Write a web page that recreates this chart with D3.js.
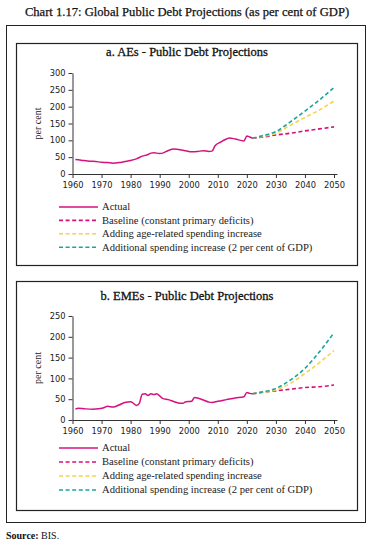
<!DOCTYPE html>
<html><head><meta charset="utf-8">
<script src="https://cdn.jsdelivr.net/npm/d3@7"></script>
<style>
html,body{margin:0;padding:0;background:#fff;}
svg{display:block;}
</style></head>
<body>
<svg id="c" width="373" height="548"></svg>
<script>
// ---- Data ----
const xTicks = [1960,1970,1980,1990,2000,2010,2020,2030,2040,2050];
const aYTicks = [0,50,100,150,200,250,300];
const bYTicks = [0,50,100,150,200,250];

const aActualYears = [1961,1963,1966,1968,1970,1972,1974,1976,1978,1980,1982,1984,1986,1987,1988,1990,1991,1993,1995,1997,1999,2001,2003,2005,2007,2008,2009,2011,2013,2014,2016,2019,2020,2021,2022];
const aActual      = [43,41,38,37,35,34,32,34,37,40,45,53,58,62,63,61,62,70,74,72,69,66,67,69,67,68,83,95,104,107,104,98,113,110,106];

const projYears = [2022,2025,2030,2035,2040,2045,2050];
const aBaseline = [106,109,116,121,128,134,140];
const aAge      = [106,111,121,145,168,190,217];
const aExtra    = [106,113,126,155,187,220,257];

const bActualYears = [1961,1962,1964,1967,1969,1971,1972,1974,1976,1978,1980,1981,1982,1983,1984,1985,1986,1987,1988,1989,1990,1991,1993,1995,1997,1998,1999,2001,2002,2003,2005,2007,2008,2010,2013,2016,2019,2020,2021,2022];
const bActual      = [26,28,27,26,27,30,33,31,36,42,44,40,35,40,62,63,59,63,61,63,58,52,49,44,40,40,44,45,54,53,48,43,42,45,49,53,56,66,64,63];

const bBaseline = [63,66,70,74,78,80,84];
const bAge      = [63,66,72,88,112,138,167];
const bExtra    = [63,67,76,96,124,164,210];

const legendLabels = ["Actual","Baseline (constant primary deficits)","Adding age-related spending increase","Additional spending increase (2 per cent of GDP)"];
const colors = ["#d4127e","#d4127e","#f7d24c","#1aa59c"];

// ---- Drawing ----
const svg = d3.select("#c");
const serif = "'Liberation Serif','DejaVu Serif',serif";
const sans = "'DejaVu Sans',Verdana,sans-serif";

svg.append("text").attr("x",187).attr("y",16).attr("text-anchor","middle")
  .attr("font-family",serif).attr("font-size",12.6).attr("fill","#111")
  .attr("stroke","#111").attr("stroke-width",0.25)
  .text("Chart 1.17: Global Public Debt Projections (as per cent of GDP)");

svg.append("rect").attr("x",6.5).attr("y",25.5).attr("width",359).attr("height",497)
  .attr("fill","none").attr("stroke","#222").attr("stroke-width",1);

function panel(cfg){
  const g = svg.append("g");
  g.append("rect").attr("x",16.5).attr("y",cfg.boxTop+0.5).attr("width",341).attr("height",cfg.boxH)
    .attr("fill","none").attr("stroke","#222").attr("stroke-width",1.2);
  g.append("text").attr("x",187).attr("y",cfg.titleY).attr("text-anchor","middle")
    .attr("font-family",serif).attr("font-size",12.5).attr("fill","#111")
    .attr("stroke","#111").attr("stroke-width",0.3).text(cfg.title);

  const x = d3.scaleLinear().domain([1960,2050]).range([72.5,334]);
  const y = d3.scaleLinear().domain([0,cfg.yMax]).range([cfg.y0,cfg.yTop]);

  const yAx = g.append("g").attr("transform","translate(72.5,0)")
    .call(d3.axisLeft(y).tickValues(cfg.yTicks).tickSize(4).tickPadding(3).tickSizeOuter(0));
  const xAx = g.append("g").attr("transform",`translate(0,${cfg.y0})`)
    .call(d3.axisBottom(x).tickValues(xTicks).tickFormat(d3.format("d")).tickSize(4).tickPadding(4).tickSizeOuter(0));
  xAx.select(".domain").attr("d",`M72.5,0.5H337.5`);
  [yAx,xAx].forEach(a=>{
    a.selectAll("path,line").attr("stroke","#333").attr("stroke-width",1);
    a.selectAll("text").attr("font-family",sans).attr("font-size",8.3).attr("fill","#222");
  });

  g.append("text").attr("transform",`translate(41,${(cfg.y0+cfg.yTop)/2}) rotate(-90)`)
    .attr("text-anchor","middle").attr("font-family",serif).attr("font-size",10).attr("fill","#222")
    .text("per cent");

  const line = d3.line().x(d=>x(d[0])).y(d=>y(d[1])).curve(d3.curveMonotoneX);
  [[cfg.baseline,1],[cfg.age,2],[cfg.extra,3]].forEach(([vals,ci])=>{
    g.append("path").datum(projYears.map((yr,i)=>[yr,vals[i]]))
      .attr("d",line).attr("fill","none").attr("stroke",colors[ci])
      .attr("stroke-width",1.6).attr("stroke-dasharray","4,2.6");
  });
  g.append("path").datum(cfg.actualYears.map((yr,i)=>[yr,cfg.actual[i]]))
    .attr("d",line).attr("fill","none").attr("stroke",colors[0]).attr("stroke-width",1.5);

  legendLabels.forEach((lab,i)=>{
    const ly = cfg.legY + i*cfg.legStep;
    g.append("line").attr("x1",59).attr("x2",98).attr("y1",ly).attr("y2",ly)
      .attr("stroke",colors[i]).attr("stroke-width",1.6)
      .attr("stroke-dasharray", i===0 ? null : "4,2.6");
    g.append("text").attr("x",102).attr("y",ly+3.4).attr("font-family",serif)
      .attr("font-size",10.6).attr("fill","#222").text(lab);
  });
}

panel({boxTop:43, boxH:222, title:"a. AEs - Public Debt Projections", titleY:56,
  yMax:300, yTicks:aYTicks, y0:174, yTop:73,
  actualYears:aActualYears, actual:aActual, baseline:aBaseline, age:aAge, extra:aExtra,
  legY:207, legStep:13.4});

panel({boxTop:281, boxH:229, title:"b. EMEs - Public Debt Projections", titleY:300,
  yMax:250, yTicks:bYTicks, y0:420, yTop:316,
  actualYears:bActualYears, actual:bActual, baseline:bBaseline, age:bAge, extra:bExtra,
  legY:448, legStep:14});

const src = svg.append("text").attr("x",6).attr("y",539).attr("font-family",serif)
  .attr("font-size",10).attr("fill","#111");
src.append("tspan").attr("font-weight","bold").text("Source:");
src.append("tspan").text(" BIS.");
</script>
</body></html>
